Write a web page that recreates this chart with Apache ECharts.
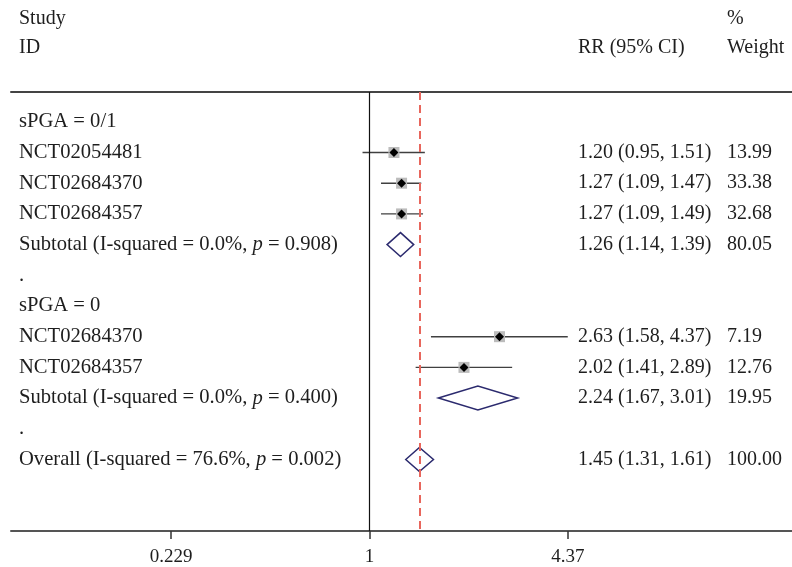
<!DOCTYPE html>
<html>
<head>
<meta charset="utf-8">
<script src="https://cdn.jsdelivr.net/npm/echarts@6/dist/echarts.min.js"></script>
<style>html,body{margin:0;padding:0;background:#fff;}#c{width:792px;height:567px;}</style>
</head>
<body>
<div id="c"></div>
<script>
// ---- data ----
const rowLabels = [
  'sPGA = 0/1',
  'NCT02054481',
  'NCT02684370',
  'NCT02684357',
  'Subtotal (I-squared = 0.0%, |p| = 0.908)',
  '.',
  'sPGA = 0',
  'NCT02684370',
  'NCT02684357',
  'Subtotal (I-squared = 0.0%, |p| = 0.400)',
  '.',
  'Overall (I-squared = 76.6%, |p| = 0.002)'
];
const rowKinds = ['group','study','study','study','pooled','blank','group','study','study','pooled','blank','pooled'];
const rrValues = [null, 1.20, 1.27, 1.27, 1.26, null, null, 2.63, 2.02, 2.24, null, 1.45];
const ciLow    = [null, 0.95, 1.09, 1.09, 1.14, null, null, 1.58, 1.41, 1.67, null, 1.31];
const ciHigh   = [null, 1.51, 1.47, 1.49, 1.39, null, null, 4.37, 2.89, 3.01, null, 1.61];
const weights  = [null, 13.99, 33.38, 32.68, 80.05, null, null, 7.19, 12.76, 19.95, null, 100.00];
const xTickValues = [0.229, 1, 4.37];
const xTickLabels = ['0.229', '1', '4.37'];
const overallRR = rrValues[11];

// ---- styles ----
const FONT = '"Liberation Serif", "DejaVu Serif", serif';
const FS = 20;
const FS_LEFT = 20.6;
const TXT = '#1e1e1e';
const COL_LEFT = 19, COL_RR = 578, COL_W = 727;

function richText(s) {
  const parts = s.split('|');
  return parts.map((p, k) => (k % 2 === 1 ? '{i|' + p + '}' : '{n|' + p + '}')).join('');
}
const richStyles = {
  n: { fontFamily: FONT, fontSize: FS_LEFT, fill: TXT, color: TXT },
  i: { fontFamily: FONT, fontSize: FS_LEFT, fontStyle: 'italic', fill: TXT, color: TXT }
};

function renderItem(params, api) {
  const i = params.dataIndex;
  const y = api.coord([1, i])[1];
  const children = [];
  children.push({
    type: 'text',
    style: { x: COL_LEFT, y: y, text: richText(rowLabels[i]), rich: richStyles,
             font: FS_LEFT + 'px ' + FONT, fill: TXT, verticalAlign: 'middle', align: 'left' }
  });
  const kind = rowKinds[i];
  if (kind === 'study' || kind === 'pooled') {
    const pc = api.coord([rrValues[i], i]);
    const pl = api.coord([ciLow[i], i]);
    const ph = api.coord([ciHigh[i], i]);
    if (kind === 'study') {
      children.push({ type: 'line', shape: { x1: pl[0], y1: y, x2: ph[0], y2: y },
        style: { stroke: '#404040', lineWidth: 1.4 } });
      const s = 11;
      children.push({ type: 'rect', shape: { x: pc[0] - s / 2, y: y - s / 2, width: s, height: s },
        style: { fill: '#bcbcbc' } });
      const d = 4.5;
      children.push({ type: 'polygon', shape: { points: [[pc[0] - d, y], [pc[0], y - d], [pc[0] + d, y], [pc[0], y + d]] },
        style: { fill: '#000' } });
    } else {
      const h = 12;
      children.push({ type: 'polygon', shape: { points: [[pl[0], y], [pc[0], y - h], [ph[0], y], [pc[0], y + h]] },
        style: { fill: 'none', stroke: '#2b2a6e', lineWidth: 1.5 } });
    }
    children.push({ type: 'text', style: { x: COL_RR, y: y,
      text: rrValues[i].toFixed(2) + ' (' + ciLow[i].toFixed(2) + ', ' + ciHigh[i].toFixed(2) + ')',
      font: FS + 'px ' + FONT, fill: TXT, verticalAlign: 'middle' } });
    children.push({ type: 'text', style: { x: COL_W, y: y, text: weights[i].toFixed(2),
      font: FS + 'px ' + FONT, fill: TXT, verticalAlign: 'middle' } });
  }
  return { type: 'group', children: children };
}

const chart = echarts.init(document.getElementById('c'), null, { renderer: 'canvas' });
const xMin = 0.0696, xMax = 23.15;
chart.setOption({
  animation: false,
  backgroundColor: '#fff',
  grid: { left: 11, right: 0, top: 92, bottom: 33 },
  xAxis: [
    {
      type: 'log', logBase: 4.37, min: xMin, max: xMax, position: 'bottom',
      axisLine: { show: true, onZero: false, lineStyle: { color: '#555', width: 2 } },
      axisTick: { show: true, customValues: xTickValues, length: 8, lineStyle: { color: '#333', width: 1.5 } },
      axisLabel: { show: true, customValues: xTickValues, margin: 17,
        formatter: function (v) { const k = xTickValues.findIndex(t => Math.abs(t - v) < 1e-6); return k >= 0 ? xTickLabels[k] : ''; },
        fontFamily: FONT, fontSize: 19, color: TXT },
      splitLine: { show: false }
    },
    {
      type: 'log', logBase: 4.37, min: xMin, max: xMax, position: 'top',
      axisLine: { show: true, onZero: false, lineStyle: { color: '#444', width: 2 } },
      axisTick: { show: false }, axisLabel: { show: false }, splitLine: { show: false }
    }
  ],
  yAxis: { type: 'value', inverse: true, min: -0.971, max: 13.33, show: false },
  graphic: [
    { type: 'text', left: COL_LEFT, top: 9, style: { text: 'Study', font: FS + 'px ' + FONT, fill: TXT } },
    { type: 'text', left: COL_LEFT, top: 38, style: { text: 'ID', font: FS + 'px ' + FONT, fill: TXT } },
    { type: 'text', left: COL_RR, top: 38, style: { text: 'RR (95% CI)', font: FS + 'px ' + FONT, fill: TXT } },
    { type: 'text', left: COL_W, top: 9, style: { text: '%', font: FS + 'px ' + FONT, fill: TXT } },
    { type: 'text', left: COL_W, top: 38, style: { text: 'Weight', font: FS + 'px ' + FONT, fill: TXT } }
  ],
  series: [
    {
      type: 'custom', renderItem: renderItem, clip: false,
      data: rowLabels.map((_, i) => [rrValues[i] == null ? 1 : rrValues[i], i]),
      encode: { x: 0, y: 1 }, silent: true
    },
    {
      type: 'line', data: [], silent: true,
      markLine: {
        silent: true, symbol: 'none', label: { show: false },
        data: [
          { xAxis: 1, lineStyle: { color: '#111', width: 1.2, type: 'solid' } },
          { xAxis: overallRR, lineStyle: { color: '#e8665c', width: 2, type: [8, 5] } }
        ]
      }
    }
  ]
});
</script>
</body>
</html>
